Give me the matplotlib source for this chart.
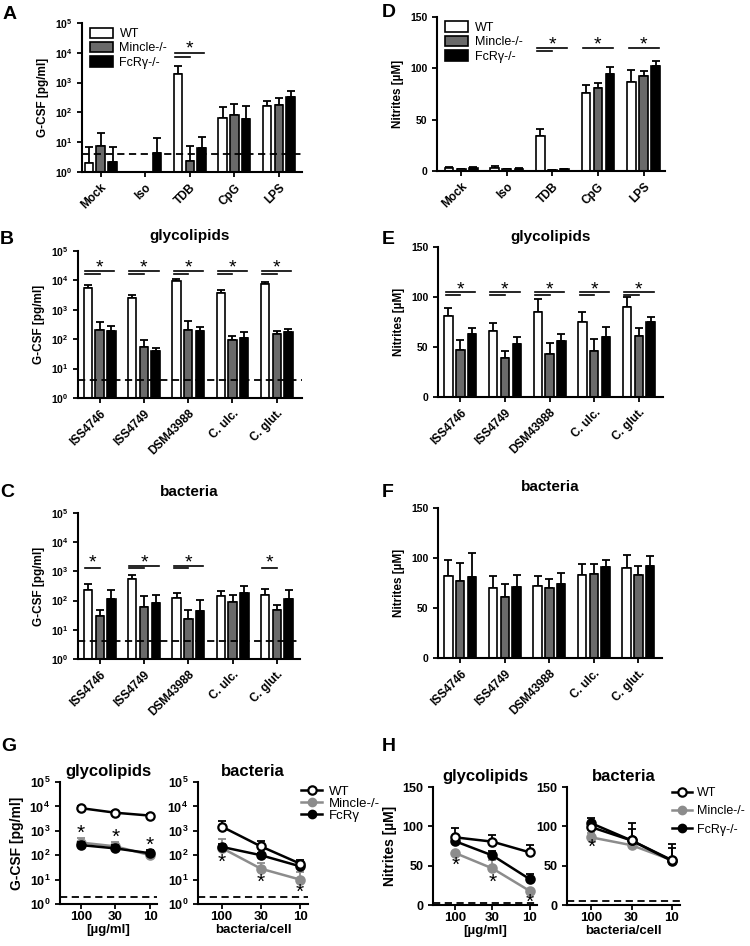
import matplotlib as mpl
mpl.use('Agg')
import numpy as np
import matplotlib.pyplot as plt
from matplotlib.patches import Patch
from matplotlib.lines import Line2D

plt.rcParams['font.family'] = ['Liberation Sans', 'DejaVu Sans']
plt.rcParams['mathtext.fontset'] = 'custom'
plt.rcParams['mathtext.bf'] = 'Liberation Sans:bold'
plt.rcParams['mathtext.rm'] = 'Liberation Sans'

# ---- data ----
cats_ctrl = ['Mock', 'Iso', 'TDB', 'CpG', 'LPS']
cats_strain = ['ISS4746', 'ISS4749', 'DSM43988', 'C. ulc.', 'C. glut.']
groups = ['WT', 'Mincle-/-', 'FcRγ-/-']

# A: G-CSF, controls (mean, top of error bar)
a_wt = [2.0, np.nan, 2000, 65, 165]
a_wt_top = [7, np.nan, 3500, 150, 235]
a_mi = [7.5, np.nan, 2.3, 80, 175]
a_mi_top = [20, np.nan, 7.5, 195, 295]
a_fc = [2.1, 4.3, 6.3, 60, 340]
a_fc_top = [7, 14, 15, 165, 530]

# D: nitrites, controls
d_wt = [3, 3, 34, 76, 87]
d_wt_top = [4, 5, 41, 84, 98]
d_mi = [1.5, 1.5, 0.8, 81, 93]
d_mi_top = [2, 2, 1, 86, 97]
d_fc = [2.5, 2, 1.5, 94, 102]
d_fc_top = [3.5, 2.5, 2, 101, 107]

# B: G-CSF, glycolipids
b_wt = [5500, 2500, 9500, 3800, 7800]
b_wt_top = [7000, 3100, 11500, 4800, 8500]
b_mi = [210, 55, 210, 95, 150]
b_mi_top = [380, 95, 400, 125, 190]
b_fc = [190, 40, 190, 110, 170]
b_fc_top = [290, 52, 270, 170, 225]

# E: nitrites, glycolipids
e_wt = [81, 66, 85, 75, 90]
e_wt_top = [89, 74, 98, 85, 100]
e_mi = [47, 39, 43, 46, 61]
e_mi_top = [57, 46, 54, 58, 69]
e_fc = [63, 53, 56, 60, 75]
e_fc_top = [69, 60, 63, 70, 80]

# C: G-CSF, bacteria
c_wt = [230, 530, 125, 140, 160]
c_wt_top = [380, 780, 185, 220, 250]
c_mi = [30, 60, 24, 90, 48]
c_mi_top = [48, 145, 46, 155, 70]
c_fc = [110, 80, 45, 180, 115]
c_fc_top = [230, 160, 105, 320, 230]

# F: nitrites, bacteria
f_wt = [82, 70, 72, 83, 90]
f_wt_top = [98, 82, 82, 94, 103]
f_mi = [77, 61, 70, 84, 83]
f_mi_top = [95, 74, 79, 94, 92]
f_fc = [81, 71, 74, 91, 92]
f_fc_top = [105, 83, 85, 98, 102]

# significance marks: group index -> 'both' / 'long' / 'short'
a_sig = {2: 'both'}
d_sig = {2: 'both', 3: 'long', 4: 'long'}
b_sig = {0: 'both', 1: 'both', 2: 'both', 3: 'both', 4: 'both'}
e_sig = {0: 'both', 1: 'both', 2: 'both', 3: 'both', 4: 'both'}
c_sig = {0: 'short', 1: 'both', 2: 'both', 4: 'short'}
# (long line, short line, star) heights
a_sig_y = (1.0e4, 7.0e3, 1.3e4)
d_sig_y = (120, 116.5, 123)
b_sig_y = (2.1e4, 1.7e4, 2.6e4)
e_sig_y = (105, 102, 107)
c_sig_y = (1500, 1260, 1900)

# G / H dose response
doses = ['100', '30', '10']
g1_wt = [8500, 5500, 4200]; g1_wt_top = [10000, 6500, 5000]
g1_mi = [330, 230, 100]; g1_mi_top = [520, 360, 125]
g1_fc = [260, 190, 120]; g1_fc_top = [360, 260, 170]
g1_star = [800, 560, 260]
g2_wt = [1500, 230, 45]; g2_wt_top = [2500, 380, 65]
g2_mi = [200, 28, 10]; g2_mi_top = [480, 50, 20]
g2_fc = [220, 100, 35]; g2_fc_top = [300, 125, 45]
g2_star = [50, 7.5, 3]
h1_wt = [86, 80.5, 67]; h1_wt_top = [98, 89, 76]
h1_mi = [66, 46.5, 18]; h1_mi_top = [68, 57, 19]
h1_fc = [81, 63, 33]; h1_fc_top = [84, 69, 39]
h1_star = [50, 29, 3]
h2_wt = [99, 82, 57]; h2_wt_top = [106, 96, 72]
h2_mi = [86, 76, 57]; h2_mi_top = [92, 80, 60]
h2_fc = [104, 82, 56]; h2_fc_top = [110, 104, 77]
h2_star = [73, np.nan, np.nan]

GRAY = '#6a6a6a'
LGRAY = '#8c8c8c'
W, H = 750, 946


def rect(l, t, r, b):
    return [l / W, 1 - b / H, (r - l) / W, (b - t) / H]


def style(ax, ysize):
    for s in ['top', 'right']:
        ax.spines[s].set_visible(False)
    for s in ['left', 'bottom']:
        ax.spines[s].set_linewidth(1.5)
    ax.tick_params(width=1.3, length=3.5)
    ax.tick_params(axis='y', labelsize=ysize)
    for lab in ax.get_yticklabels():
        lab.set_fontweight('bold')


def log_axis(ax):
    ax.set_yscale('log')
    ax.set_ylim(1, 1e5)
    ax.set_yticks([1, 10, 100, 1e3, 1e4, 1e5])
    ax.set_yticklabels([r'$\mathbf{10^{%d}}$' % i for i in range(6)])
    ax.minorticks_off()


def bar_panel(ax, cats, vals, tops, log, xlim, sig, sig_y, ylabel, dash=None):
    x = np.arange(len(cats))
    off, bw = 0.265, 0.19
    colors = ['white', GRAY, 'black']
    for k, (v, t, c) in enumerate(zip(vals, tops, colors)):
        v = np.array(v, float)
        t = np.array(t, float)
        xs = x + (k - 1) * off
        ax.bar(xs, v, bw, facecolor=c, edgecolor='black', lw=1.2, zorder=2)
        err = np.vstack([np.zeros_like(v), t - v])
        ax.errorbar(xs, v, yerr=err, fmt='none', ecolor='black', elinewidth=1.3,
                    capsize=3, capthick=1.3, zorder=1)
    if log:
        log_axis(ax)
    else:
        ax.set_ylim(0, 150)
        ax.set_yticks([0, 50, 100, 150])
    if dash is not None:
        ax.axhline(dash, color='black', ls=(0, (4, 2.5)), lw=1.3, zorder=3)
    ax.set_xlim(*xlim)
    ax.set_xticks(x)
    ax.set_xticklabels(cats, rotation=45, ha='right', rotation_mode='anchor',
                       fontweight='bold', fontsize=8.5)
    ax.set_ylabel(ylabel, fontweight='bold', fontsize=8.5)
    style(ax, 7.5)
    y_long, y_short, y_star = sig_y
    for g, kind in sig.items():
        if kind in ('both', 'long'):
            ax.plot([g - 0.33, g + 0.33], [y_long, y_long], color='black', lw=1.2)
        if kind in ('both', 'short'):
            ax.plot([g - 0.33, g], [y_short, y_short], color='black', lw=1.2)
        sx = g - 0.16 if kind == 'short' else g
        ax.text(sx, y_star, '*', ha='center', va='center', fontsize=14)


def dose_panel(ax, series, stars, log, title, xlabel, dash, ylabel=None):
    x = np.arange(3)
    specs = [
        (series[1], LGRAY, LGRAY, 1.5),   # Mincle
        (series[2], 'black', 'black', 2),  # FcRg
        (series[0], 'black', 'white', 3),  # WT
    ]
    for (v, t), c, fc, z in specs:
        v = np.array(v, float)
        t = np.array(t, float)
        ax.errorbar(x, v, yerr=np.vstack([np.zeros(3), t - v]), fmt='none', ecolor=c,
                    elinewidth=1.3, capsize=3, capthick=1.3, zorder=z)
        ax.plot(x, v, '-o', color=c, mfc=fc, mec=c, mew=1.6, ms=6, lw=1.8, zorder=z + 0.5)
    if log:
        log_axis(ax)
    else:
        ax.set_ylim(0, 150)
        ax.set_yticks([0, 50, 100, 150])
    ax.axhline(dash, color='black', ls=(0, (4, 2.5)), lw=1.3, zorder=0)
    for xi, s in zip(x, stars):
        if not np.isnan(s):
            ax.text(xi, s, '*', ha='center', va='center', fontsize=15)
    ax.set_xlim(-0.6, 2.2)
    ax.set_xticks(x)
    ax.set_xticklabels(doses, fontweight='bold', fontsize=9.5)
    ax.set_xlabel(xlabel, fontweight='bold', fontsize=9.5, labelpad=1)
    ax.set_title(title, fontweight='bold', fontsize=12, pad=4)
    if ylabel:
        ax.set_ylabel(ylabel, fontweight='bold', fontsize=10)
    style(ax, 9)
    ax.tick_params(axis='x', pad=1.5)


fig = plt.figure(figsize=(7.5, 9.46), dpi=100)

axA = fig.add_axes(rect(82, 23, 302, 172))
bar_panel(axA, cats_ctrl, [a_wt, a_mi, a_fc], [a_wt_top, a_mi_top, a_fc_top], True,
          (-0.42, 4.52), a_sig, a_sig_y, 'G-CSF [pg/ml]', dash=4)
axD = fig.add_axes(rect(437, 17, 665, 171))
bar_panel(axD, cats_ctrl, [d_wt, d_mi, d_fc], [d_wt_top, d_mi_top, d_fc_top], False,
          (-0.53, 4.47), d_sig, d_sig_y, 'Nitrites [µM]')
axB = fig.add_axes(rect(78, 251, 302, 398))
bar_panel(axB, cats_strain, [b_wt, b_mi, b_fc], [b_wt_top, b_mi_top, b_fc_top], True,
          (-0.49, 4.57), b_sig, b_sig_y, 'G-CSF [pg/ml]', dash=4)
axB.set_title('glycolipids', fontweight='bold', fontsize=11, pad=8)
axE = fig.add_axes(rect(438, 247, 663, 397))
bar_panel(axE, cats_strain, [e_wt, e_mi, e_fc], [e_wt_top, e_mi_top, e_fc_top], False,
          (-0.5, 4.54), e_sig, e_sig_y, 'Nitrites [µM]')
axE.set_title('glycolipids', fontweight='bold', fontsize=11, pad=4)
axC = fig.add_axes(rect(78, 513, 300, 659))
bar_panel(axC, cats_strain, [c_wt, c_mi, c_fc], [c_wt_top, c_mi_top, c_fc_top], True,
          (-0.49, 4.52), c_sig, c_sig_y, 'G-CSF [pg/ml]', dash=4)
axC.set_title('bacteria', fontweight='bold', fontsize=11, pad=12)
axF = fig.add_axes(rect(438, 508, 662, 658))
bar_panel(axF, cats_strain, [f_wt, f_mi, f_fc], [f_wt_top, f_mi_top, f_fc_top], False,
          (-0.5, 4.53), {}, e_sig_y, 'Nitrites [µM]')
axF.set_title('bacteria', fontweight='bold', fontsize=11, pad=12)

# legend in A and D
patches = [Patch(facecolor=c, edgecolor='black', lw=1.2) for c in ['white', GRAY, 'black']]
for ax in (axA, axD):
    ax.legend(patches, groups, loc='upper left', bbox_to_anchor=(0.0, 1.02), frameon=False,
              fontsize=9, handlelength=1.9, handleheight=0.9, labelspacing=0.15,
              handletextpad=0.5, borderaxespad=0.2)

axG1 = fig.add_axes(rect(60, 782, 157, 904))
dose_panel(axG1, [(g1_wt, g1_wt_top), (g1_mi, g1_mi_top), (g1_fc, g1_fc_top)], g1_star,
           True, 'glycolipids', '[µg/ml]', 2, 'G-CSF [pg/ml]')
axG2 = fig.add_axes(rect(198, 782, 308, 904))
dose_panel(axG2, [(g2_wt, g2_wt_top), (g2_mi, g2_mi_top), (g2_fc, g2_fc_top)], g2_star,
           True, 'bacteria', 'bacteria/cell', 2)
axH1 = fig.add_axes(rect(433, 787, 537, 905))
dose_panel(axH1, [(h1_wt, h1_wt_top), (h1_mi, h1_mi_top), (h1_fc, h1_fc_top)], h1_star,
           False, 'glycolipids', '[µg/ml]', 2, 'Nitrites [µM]')
axH2 = fig.add_axes(rect(567, 787, 680, 905))
dose_panel(axH2, [(h2_wt, h2_wt_top), (h2_mi, h2_mi_top), (h2_fc, h2_fc_top)], h2_star,
           False, 'bacteria', 'bacteria/cell', 5)


def line_handles():
    return [Line2D([], [], color='black', marker='o', mfc='white', mew=1.6, ms=6, lw=1.8),
            Line2D([], [], color=LGRAY, marker='o', ms=6, lw=1.8),
            Line2D([], [], color='black', marker='o', ms=6, lw=1.8)]


fig.legend(line_handles(), ['WT', 'Mincle-/-', 'FcRγ'], loc='upper left',
           bbox_to_anchor=(296 / W, 1 - 780 / H), frameon=False, fontsize=9.5,
           handlelength=1.6, handletextpad=0.5, labelspacing=0.0, borderaxespad=0)
fig.legend(line_handles(), ['WT', 'Mincle-/-', 'FcRγ-/-'], loc='upper left',
           bbox_to_anchor=(667 / W, 1 - 782 / H), frameon=False, fontsize=9,
           handlelength=1.6, handletextpad=0.4, labelspacing=0.5, borderaxespad=0)

for lab, px, py in [('A', 3, 6), ('B', 0, 231), ('C', 0, 484), ('D', 382, 4),
                    ('E', 382, 231), ('F', 382, 484), ('G', 1, 738), ('H', 382, 738)]:
    fig.text(px / W, 1 - py / H, lab, fontsize=14, fontweight='bold', va='top', ha='left')

fig.savefig('out.png', dpi=100)
plt.close(fig)
